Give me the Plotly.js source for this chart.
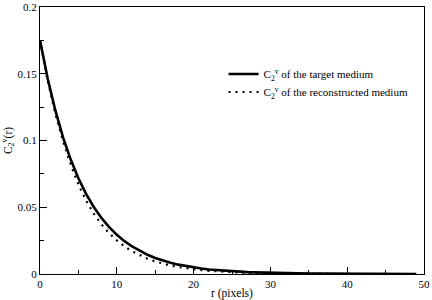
<!DOCTYPE html>
<html>
<head>
<meta charset="utf-8">
<script src="https://cdn.plot.ly/plotly-3.0.1.min.js"></script>
<style>html,body{margin:0;padding:0;background:#fff;}#chart{width:432px;height:300px;}</style>
</head>
<body>
<div id="chart"></div>
<script>
const r = [0,1,2,3,4,5,6,7,8,9,10,11,12,13,14,15,16,17,18,19,20,21,22,23,24,25,26,27,28,29,30,31,32,33,34,35,36,37,38,39,40,41,42,43,44,45,46,47,48,49];
const targetC2 = [0.175,0.1464,0.1225,0.1024,0.0857,0.0717,0.0600,0.0502,0.0420,0.0351,0.0294,0.0246,0.0206,0.0172,0.0144,0.0120,0.0101,0.0084,0.0070,0.0059,0.0049,0.0041,0.0034,0.0029,0.0024,0.0020,0.0017,0.0014,0.0012,0.0010,0.0008,0.0007,0.0006,0.0005,0.0004,0.0003,0.0003,0.0002,0.0002,0.0002,0.0001,0.0001,0.0001,0.0001,0.0001,0.0000,0.0000,0.0000,0.0000,0.0000];
const reconC2 = [0.175,0.1450,0.1200,0.0995,0.0820,0.0670,0.0550,0.0452,0.0372,0.0306,0.0252,0.0206,0.0170,0.0140,0.0114,0.0094,0.0077,0.0063,0.0052,0.0043,0.0035,0.0029,0.0024,0.0020,0.0016,0.0013,0.0011,0.0009,0.0007,0.0006,0.0005,0.0004,0.0003,0.0003,0.0002,0.0002,0.0001,0.0001,0.0001,0.0001,0.0000,0.0000,0.0000,0.0000,0.0000,0.0000,0.0000,0.0000,0.0000,0.0000];
const xTicks = [0,10,20,30,40,50];
const yTicks = [0,0.05,0.1,0.15,0.2];
const yTickText = ['0','0.05','0.1','0.15','0.2'];
const seriesNames = ['C<sub>2</sub><sup>v</sup> of the target medium','C<sub>2</sub><sup>v</sup> of the reconstructed medium'];

const font = {family:'Liberation Serif, Times New Roman, DejaVu Serif, serif', color:'#000'};
const f = s => Object.assign({size:s}, font);

const traces = [
  {x:r, y:targetC2, type:'scatter', mode:'lines', name:seriesNames[0], legend:'legend', line:{color:'#000', width:2.6}},
  {x:r, y:reconC2, type:'scatter', mode:'lines', name:seriesNames[1], legend:'legend2', line:{color:'#000', width:2.2, dash:'2px,5px'}}
];

const axisCommon = {
  showgrid:false, zeroline:false, showline:true, linecolor:'#000', linewidth:1, mirror:true,
  ticks:'inside', ticklen:7, tickwidth:1, tickcolor:'#000',
  tickfont:f(11)
};

const legendCommon = {xanchor:'left', yanchor:'middle', bgcolor:'rgba(0,0,0,0)', font:f(11), itemwidth:30};

const layout = {
  width:432, height:300,
  margin:{l:40, r:8, t:7, b:26},
  paper_bgcolor:'#fff', plot_bgcolor:'#fff',
  font:font,
  showlegend:true,
  legend:Object.assign({x:0.478, y:(274-74)/267}, legendCommon),
  legend2:Object.assign({x:0.478, y:(274-92)/267}, legendCommon),
  xaxis:Object.assign({}, axisCommon, {
    range:[0,50], tickvals:xTicks, ticktext:xTicks.map(String),
    minor:{dtick:5, ticks:'inside', ticklen:4, tickwidth:1, tickcolor:'#000', showgrid:false},
    title:{text:'r (pixels)', font:f(11.5), standoff:4}
  }),
  yaxis:Object.assign({}, axisCommon, {
    range:[0,0.2], tickvals:yTicks, ticktext:yTickText,
    minor:{dtick:0.025, ticks:'inside', ticklen:4, tickwidth:1, tickcolor:'#000', showgrid:false},
    title:{text:'C<sub>2</sub><sup>v</sup>(r)', font:f(11.5), standoff:6}
  })
};

Plotly.newPlot('chart', traces, layout, {displayModeBar:false, staticPlot:true});
</script>
</body>
</html>
